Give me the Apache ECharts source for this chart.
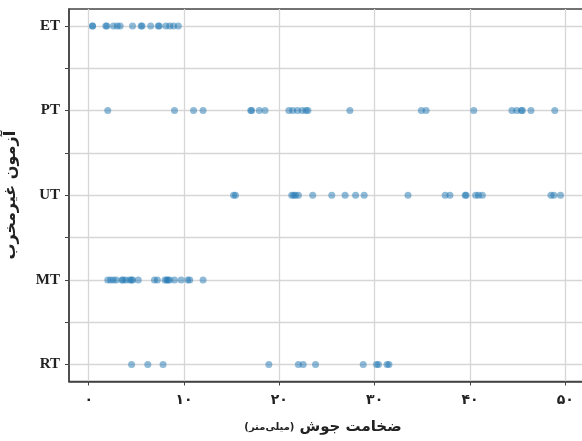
<!DOCTYPE html>
<html>
<head>
<meta charset="utf-8">
<script src="https://cdn.jsdelivr.net/npm/echarts@6/dist/echarts.min.js"></script>
<style>
  html, body { margin: 0; padding: 0; background: #fff; }
  #chart { width: 582px; height: 441px; }
</style>
</head>
<body>
<div id="chart"></div>
<script>
// ضخامت جوش (mm) for each NDT method
const methods = ["RT", "MT", "UT", "PT", "ET"];
const rtThickness = [4.5, 6.2, 7.8, 18.9, 22.0, 22.5, 23.8, 28.8, 30.2, 30.4, 31.3, 31.5];
const mtThickness = [2.0, 2.3, 2.6, 2.9, 3.5, 3.6, 3.9, 4.3, 4.5, 4.6, 5.2, 6.9, 7.2, 8.0, 8.2, 8.3, 8.5, 9.0, 9.7, 10.4, 10.6, 12.0];
const utThickness = [15.2, 15.4, 21.3, 21.5, 21.7, 22.0, 23.5, 25.5, 26.9, 28.0, 28.9, 33.5, 37.4, 37.9, 39.5, 39.6, 40.6, 40.9, 41.3, 48.5, 48.8, 49.5];
const ptThickness = [2.0, 9.0, 11.0, 12.0, 17.0, 17.1, 17.9, 18.5, 21.0, 21.4, 21.9, 22.4, 22.8, 23.0, 27.4, 34.9, 35.4, 40.4, 44.4, 44.9, 45.4, 45.5, 46.4, 48.9];
const etThickness = [0.4, 0.4, 1.8, 1.9, 2.6, 3.0, 3.3, 4.6, 5.5, 5.6, 6.5, 7.3, 7.4, 8.1, 8.5, 8.9, 9.4];
const xTicks = [0, 10, 20, 30, 40, 50];
const yTicks = [0, 0.5, 1, 1.5, 2, 2.5, 3, 3.5, 4];

const byMethod = [rtThickness, mtThickness, utThickness, ptThickness, etThickness];
const faDigits = "۰۱۲۳۴۵۶۷۸۹";
const toPersian = (v) => String(v).replace(/[0-9]/g, (d) => faDigits[+d]);

const axisColor = "#444";
const gridColor = "#d6d6d6";

const chart = echarts.init(document.getElementById("chart"));

chart.setOption({
  animation: false,
  grid: {
    left: 69,
    right: -3,
    top: 9,
    bottom: 59.5,
    outerBoundsMode: "none",
    containLabel: false,
    show: true,
    borderColor: axisColor,
    borderWidth: 1.5,
  },
  title: {
    text: "{s|(میلی‌متر)} {b|ضخامت جوش}",
    left: 318,
    top: 413,
    textAlign: "center",
    textStyle: {
      rich: {
        b: { fontFamily: "DejaVu Sans", fontSize: 15, fontWeight: "bold", color: "#222" },
        s: { fontFamily: "DejaVu Sans", fontSize: 10, fontWeight: "bold", color: "#222" },
      },
    },
  },
  xAxis: {
    type: "value",
    min: -2.067,
    max: 52.07,
    axisLine: { show: true, onZero: false, lineStyle: { color: axisColor, width: 1.5 } },
    axisTick: { show: true, length: 4, customValues: xTicks, lineStyle: { color: axisColor } },
    axisLabel: {
      customValues: xTicks,
      margin: 12,
      fontFamily: "DejaVu Sans",
      fontSize: 14,
      fontWeight: "bold",
      color: "#222",
      formatter: (v) => toPersian(v),
    },
    splitLine: { show: true, lineStyle: { color: gridColor, width: 1.3 } },
  },
  yAxis: {
    type: "value",
    min: -0.2,
    max: 4.2,
    name: "آزمون غیرمخرب",
    nameLocation: "middle",
    nameRotate: 90,
    nameGap: 50,
    nameTextStyle: { fontFamily: "DejaVu Sans", fontSize: 16, fontWeight: "bold", color: "#222" },
    axisLine: { show: true, onZero: false, lineStyle: { color: axisColor, width: 1.5 } },
    axisTick: { show: true, length: 4, customValues: yTicks, lineStyle: { color: axisColor } },
    axisLabel: {
      customValues: [0, 1, 2, 3, 4],
      margin: 9,
      fontFamily: "Liberation Serif",
      fontSize: 15,
      fontWeight: "bold",
      color: "#222",
      formatter: (v) => methods[Math.round(v)],
    },
    splitLine: { show: true, lineStyle: { color: gridColor, width: 1.3 } },
  },
  series: byMethod.map((vals, i) => ({
    type: "scatter",
    name: methods[i],
    symbolSize: 7,
    itemStyle: { color: "#1f77b4", opacity: 0.5 },
    data: vals.map((x) => [x, i]),
  })),
});
</script>
</body>
</html>
